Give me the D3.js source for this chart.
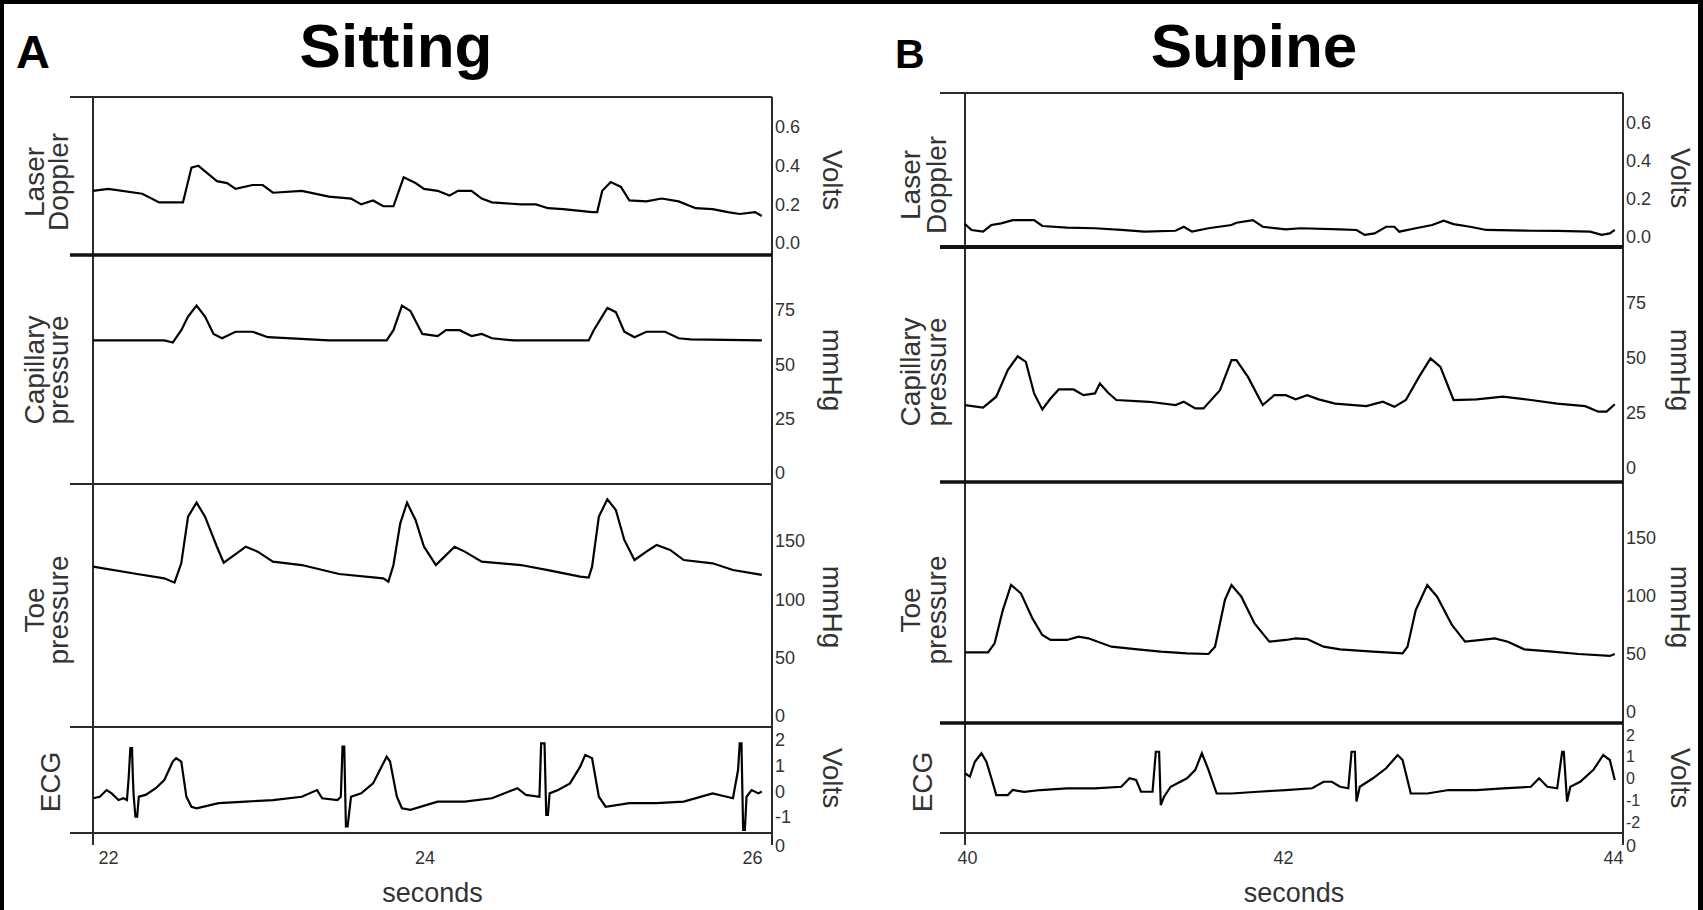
<!DOCTYPE html>
<html>
<head>
<meta charset="utf-8">
<script src="https://cdn.jsdelivr.net/npm/d3@7"></script>
<style>
  body { margin: 0; background: #fff; }
  svg { display: block; font-family: "Liberation Sans", Arial, sans-serif; }
</style>
</head>
<body>
<div id="app"></div>
<script>
// ---- data: [seconds, value] ----

// Sitting (A)
const sitLaser = [[22.00,0.27],[22.09,0.28],[22.29,0.255],[22.39,0.21],[22.53,0.21],[22.58,0.39],[22.62,0.40],[22.73,0.32],[22.79,0.31],[22.84,0.28],[22.94,0.30],[23.00,0.30],[23.06,0.26],[23.23,0.27],[23.39,0.24],[23.52,0.23],[23.58,0.20],[23.65,0.22],[23.71,0.19],[23.77,0.19],[23.83,0.34],[23.90,0.31],[23.95,0.28],[24.03,0.27],[24.10,0.245],[24.15,0.27],[24.23,0.27],[24.29,0.23],[24.35,0.21],[24.52,0.20],[24.61,0.20],[24.68,0.18],[24.77,0.175],[24.94,0.16],[24.97,0.16],[25.00,0.27],[25.05,0.315],[25.11,0.29],[25.16,0.22],[25.26,0.215],[25.35,0.23],[25.45,0.215],[25.55,0.18],[25.65,0.175],[25.74,0.16],[25.81,0.15],[25.90,0.16],[25.94,0.14]];

const sitCap = [[22.00,61],[22.42,61],[22.47,60],[22.52,65.7],[22.56,72],[22.61,77],[22.66,72],[22.71,64],[22.76,62],[22.84,65],[22.94,65],[23.03,62.5],[23.39,61],[23.73,61],[23.77,65.7],[23.82,77],[23.87,74.5],[23.94,64],[24.03,63],[24.08,65.7],[24.16,65.7],[24.23,63],[24.29,64],[24.35,62],[24.48,61],[24.92,61],[24.95,65.7],[25.03,76],[25.08,74],[25.13,65],[25.19,62.5],[25.26,65],[25.37,65],[25.45,62],[25.52,61.5],[25.94,61]];

const sitToe = [[22.00,128],[22.26,121.7],[22.42,118],[22.48,114.3],[22.52,130.9],[22.56,170.9],[22.61,182.9],[22.66,170.9],[22.73,145.1],[22.77,131.4],[22.82,136.6],[22.90,145.1],[22.97,140.9],[23.06,132.3],[23.23,129.4],[23.45,121.7],[23.71,118],[23.74,115.1],[23.77,129.4],[23.81,165.1],[23.85,182.9],[23.90,168],[23.95,145.1],[24.02,129.4],[24.06,135.1],[24.13,145.1],[24.19,140.9],[24.29,132.3],[24.52,129.4],[24.68,125.1],[24.87,119.4],[24.92,118.6],[24.94,128],[24.98,170.9],[25.03,185.7],[25.08,176.6],[25.13,150.9],[25.19,133.7],[25.26,140.9],[25.32,146.6],[25.40,142.3],[25.48,133.7],[25.65,130.9],[25.77,125.1],[25.94,120.9]];

const sitEcg = [[22.00,-0.27],[22.04,-0.21],[22.08,0.05],[22.11,-0.08],[22.15,-0.34],[22.18,-0.27],[22.20,-0.34],[22.21,0.51],[22.22,1.68],[22.23,1.68],[22.235,0.51],[22.24,-0.21],[22.25,-0.99],[22.26,-0.99],[22.27,-0.21],[22.31,-0.14],[22.37,0.12],[22.42,0.44],[22.47,1.16],[22.49,1.29],[22.52,1.16],[22.55,-0.21],[22.58,-0.6],[22.61,-0.66],[22.74,-0.46],[22.90,-0.4],[23.06,-0.34],[23.23,-0.21],[23.32,0.05],[23.35,-0.27],[23.44,-0.34],[23.46,-0.21],[23.47,1.74],[23.48,1.74],[23.49,-1.37],[23.50,-1.37],[23.52,-0.21],[23.58,-0.08],[23.65,0.31],[23.69,0.83],[23.73,1.35],[23.75,1.16],[23.79,-0.21],[23.82,-0.66],[23.87,-0.72],[24.03,-0.4],[24.19,-0.4],[24.35,-0.27],[24.50,0.12],[24.55,-0.14],[24.63,-0.21],[24.64,1.87],[24.66,1.87],[24.67,-0.92],[24.68,-0.92],[24.69,-0.08],[24.74,0.05],[24.81,0.31],[24.87,0.96],[24.90,1.42],[24.94,1.29],[24.98,-0.21],[25.02,-0.6],[25.16,-0.46],[25.32,-0.46],[25.48,-0.4],[25.65,-0.08],[25.77,-0.27],[25.80,0.83],[25.81,1.87],[25.82,1.87],[25.83,-1.5],[25.84,-1.5],[25.85,-0.21],[25.88,0.05],[25.92,-0.08],[25.94,-0.01]];

// Supine (B)
const supLaser = [[40.00,0.068],[40.04,0.037],[40.11,0.028],[40.16,0.063],[40.22,0.072],[40.29,0.089],[40.42,0.089],[40.47,0.058],[40.62,0.049],[40.79,0.046],[40.95,0.037],[41.09,0.028],[41.28,0.033],[41.33,0.054],[41.38,0.028],[41.48,0.046],[41.62,0.063],[41.65,0.075],[41.75,0.089],[41.81,0.054],[41.95,0.04],[42.04,0.046],[42.28,0.04],[42.38,0.037],[42.43,0.011],[42.49,0.019],[42.56,0.054],[42.61,0.054],[42.64,0.028],[42.74,0.046],[42.84,0.063],[42.91,0.086],[42.97,0.068],[43.07,0.054],[43.17,0.037],[43.44,0.033],[43.60,0.032],[43.80,0.028],[43.87,0.011],[43.92,0.019],[43.95,0.037]];

const supCap = [[40.00,28.6],[40.11,27.5],[40.19,32.4],[40.26,44.5],[40.32,50.8],[40.37,48.2],[40.42,33.9],[40.47,26.6],[40.52,31.6],[40.57,35.7],[40.66,35.7],[40.72,33.1],[40.79,33.9],[40.82,38.4],[40.87,34.2],[40.92,30.9],[41.12,30.1],[41.28,28.6],[41.33,30.1],[41.40,27.1],[41.45,27.1],[41.55,35.4],[41.62,49],[41.65,49],[41.72,41.4],[41.81,28.6],[41.88,33.1],[41.95,33.1],[42.01,31.2],[42.08,33.1],[42.15,31.2],[42.25,29.3],[42.44,28.1],[42.54,30.1],[42.61,27.8],[42.68,30.9],[42.76,41.4],[42.83,49.8],[42.89,46],[42.97,30.9],[43.11,31.2],[43.27,32.4],[43.44,30.9],[43.60,29.3],[43.77,28.1],[43.85,25.6],[43.90,25.6],[43.95,29]];

const supToe = [[40.00,51.4],[40.14,51.4],[40.18,59.2],[40.23,87.9],[40.28,109.5],[40.34,102.3],[40.41,80.7],[40.47,66.4],[40.52,62.1],[40.62,62.1],[40.69,64.9],[40.75,63.5],[40.89,56.3],[41.05,54],[41.19,52],[41.35,50.6],[41.48,50],[41.52,56.3],[41.58,96.6],[41.62,109.5],[41.68,99.4],[41.76,76.4],[41.85,60.6],[41.95,62.1],[42.01,63.5],[42.08,62.9],[42.18,56.3],[42.28,54],[42.48,52],[42.66,50.6],[42.69,56.3],[42.74,87.9],[42.81,109.5],[42.87,99.4],[42.96,75],[43.04,60.6],[43.14,62.1],[43.22,63.5],[43.30,60.6],[43.40,54],[43.57,52],[43.73,50],[43.92,48.3],[43.95,50]];

const supEcg = [[40.00,0.24],[40.03,0.09],[40.06,0.77],[40.10,1.16],[40.13,0.77],[40.17,-0.23],[40.19,-0.76],[40.26,-0.76],[40.29,-0.53],[40.36,-0.61],[40.46,-0.53],[40.62,-0.45],[40.79,-0.45],[40.95,-0.38],[41.00,0.01],[41.04,-0.07],[41.07,-0.61],[41.14,-0.61],[41.16,1.23],[41.18,1.23],[41.19,-1.22],[41.21,-0.84],[41.25,-0.38],[41.35,0.01],[41.40,0.40],[41.44,1.16],[41.48,0.40],[41.53,-0.69],[41.62,-0.69],[41.78,-0.61],[41.95,-0.53],[42.11,-0.45],[42.18,-0.15],[42.23,-0.15],[42.28,-0.38],[42.33,-0.45],[42.35,1.23],[42.37,1.23],[42.38,-1.06],[42.40,-0.38],[42.48,0.01],[42.56,0.47],[42.63,1.08],[42.66,0.85],[42.71,-0.69],[42.81,-0.69],[42.94,-0.53],[43.11,-0.53],[43.27,-0.45],[43.44,-0.38],[43.49,0.01],[43.54,-0.38],[43.60,-0.45],[43.63,1.23],[43.64,1.23],[43.66,-1.06],[43.68,-0.38],[43.74,-0.15],[43.82,0.40],[43.88,1.08],[43.92,0.85],[43.95,-0.07]];

// tick values
const sitSecondsTicks = [22, 24, 26];
const supSecondsTicks = [40, 42, 44];
const laserTicks = [0, 0.2, 0.4, 0.6];
const capTicks = [0, 25, 50, 75];
const toeTicks = [0, 50, 100, 150];
const sitEcgTicks = [-1, 0, 1, 2];
const supEcgTicks = [-2, -1, 0, 1, 2];

// ---- layout ----
const width = 1703;
const height = 910;

const sides = [
    {
        letter: 'A', letterX: 16, letterY: 68, letterSize: 47,
        title: 'Sitting', titleX: 396, titleY: 67,
        x0: 93, x1: 772, lineStart: 70, top: 97,
        domain: [22, 26], ticks: sitSecondsTicks, tickDx: [15, -8, -20],
        labelX: [34, 58], ecgX: 50, unitX: 822,
        panels: [
            { lines: ['Laser', 'Doppler'], unit: 'Volts', data: sitLaser, ticks: laserTicks, fmt: d => d.toFixed(1), domain: [0, 0.6], range: [243, 127], bottom: 255, sep: 3.5, cy: 182, unitY: 180 },
            { lines: ['Capillary', 'pressure'], unit: 'mmHg', data: sitCap, ticks: capTicks, fmt: d => d, domain: [0, 75], range: [473, 310], bottom: 484, sep: 2.2, cy: 370, unitY: 370 },
            { lines: ['Toe', 'pressure'], unit: 'mmHg', data: sitToe, ticks: toeTicks, fmt: d => d, domain: [0, 150], range: [716, 541], bottom: 727, sep: 2.2, cy: 610, unitY: 607 },
            { lines: ['ECG'], unit: 'Volts', data: sitEcg, ticks: sitEcgTicks, fmt: d => d, domain: [-1, 2], range: [817, 740], bottom: 833, sep: 2.2, cy: 782, unitY: 778, tickSize: 18 }
        ]
    },
    {
        letter: 'B', letterX: 895, letterY: 68, letterSize: 41,
        title: 'Supine', titleX: 1254, titleY: 67,
        x0: 965, x1: 1623, lineStart: 940, top: 93,
        domain: [40, 44], ticks: supSecondsTicks, tickDx: [2, -11, -10],
        labelX: [910, 936], ecgX: 922, unitX: 1670,
        panels: [
            { lines: ['Laser', 'Doppler'], unit: 'Volts', data: supLaser, ticks: laserTicks, fmt: d => d.toFixed(1), domain: [0, 0.6], range: [237, 123], bottom: 247, sep: 4, cy: 185, unitY: 178 },
            { lines: ['Capillary', 'pressure'], unit: 'mmHg', data: supCap, ticks: capTicks, fmt: d => d, domain: [0, 75], range: [468, 303], bottom: 482, sep: 3.5, cy: 372, unitY: 370 },
            { lines: ['Toe', 'pressure'], unit: 'mmHg', data: supToe, ticks: toeTicks, fmt: d => d, domain: [0, 150], range: [712, 538], bottom: 723, sep: 3.5, cy: 610, unitY: 607 },
            { lines: ['ECG'], unit: 'Volts', data: supEcg, ticks: supEcgTicks, fmt: d => d, domain: [-2, 2], range: [822, 735], bottom: 833, sep: 2.2, cy: 782, unitY: 778, tickSize: 16 }
        ]
    }
];

const svg = d3.select('#app').append('svg')
    .attr('width', width)
    .attr('height', height)
    .attr('viewBox', `0 0 ${width} ${height}`);

svg.append('rect').attr('width', width).attr('height', height).attr('fill', '#fff');

// black frame around the figure (top, left, right)
svg.append('rect').attr('x', 0).attr('y', 0).attr('width', width).attr('height', 4).attr('fill', '#000');
svg.append('rect').attr('x', 0).attr('y', 0).attr('width', 4).attr('height', height).attr('fill', '#000');
svg.append('rect').attr('x', width - 5).attr('y', 0).attr('width', 5).attr('height', height).attr('fill', '#000');

const axisColor = '#2b2b2b';
const textColor = '#333';

sides.forEach(side => {
    const g = svg.append('g');

    const x = d3.scaleLinear().domain(side.domain).range([side.x0, side.x1]);

    // panel letter + title
    g.append('text')
        .attr('x', side.letterX)
        .attr('y', side.letterY)
        .attr('font-size', side.letterSize)
        .attr('font-weight', 'bold')
        .attr('fill', '#000')
        .text(side.letter);

    g.append('text')
        .attr('x', side.titleX)
        .attr('y', side.titleY)
        .attr('text-anchor', 'middle')
        .attr('font-size', 62)
        .attr('font-weight', 'bold')
        .attr('fill', '#000')
        .text(side.title);

    // top frame line
    g.append('line')
        .attr('x1', side.lineStart).attr('x2', side.x1)
        .attr('y1', side.top).attr('y2', side.top)
        .attr('stroke', axisColor).attr('stroke-width', 2.2);

    const lastBottom = side.panels[side.panels.length - 1].bottom;

    // vertical axes
    [side.x0, side.x1].forEach(xx => {
        g.append('line')
            .attr('x1', xx).attr('x2', xx)
            .attr('y1', side.top).attr('y2', lastBottom + 12)
            .attr('stroke', axisColor).attr('stroke-width', 2);
    });

    side.panels.forEach(p => {
        const y = d3.scaleLinear().domain(p.domain).range(p.range);

        // separator under panel
        g.append('line')
            .attr('x1', side.lineStart).attr('x2', side.x1)
            .attr('y1', p.bottom).attr('y2', p.bottom)
            .attr('stroke', p.sep > 3 ? '#111' : axisColor)
            .attr('stroke-width', p.sep);

        // trace
        const line = d3.line()
            .x(d => x(d[0]))
            .y(d => y(d[1]));

        g.append('path')
            .datum(p.data)
            .attr('d', line)
            .attr('fill', 'none')
            .attr('stroke', '#000')
            .attr('stroke-width', 2.2)
            .attr('stroke-linejoin', 'miter');

        // right axis labels
        const yAxis = g.append('g')
            .attr('transform', `translate(${side.x1}, 0)`)
            .call(d3.axisRight(y).tickValues(p.ticks).tickSize(0).tickPadding(3).tickFormat(p.fmt));
        yAxis.select('.domain').remove();
        yAxis.selectAll('text')
            .attr('font-size', p.tickSize || 18)
            .attr('font-family', '"Liberation Sans", Arial, sans-serif')
            .attr('fill', textColor);

        // left rotated label
        const lx = p.lines.length === 1 ? [side.ecgX] : side.labelX;
        p.lines.forEach((txt, i) => {
            g.append('text')
                .attr('transform', `translate(${lx[i]}, ${p.cy}) rotate(-90)`)
                .attr('text-anchor', 'middle')
                .attr('dominant-baseline', 'central')
                .attr('font-size', 28)
                .attr('fill', textColor)
                .text(txt);
        });

        // right rotated unit
        g.append('text')
            .attr('transform', `translate(${side.unitX}, ${p.unitY}) rotate(90)`)
            .attr('text-anchor', 'middle')
            .attr('dy', '-0.05em')
            .attr('font-size', 28)
            .attr('fill', textColor)
            .text(p.unit);
    });

    // the lone "0" at the foot of the right axis
    g.append('text')
        .attr('x', side.x1 + 3)
        .attr('y', lastBottom + 19)
        .attr('font-size', 18)
        .attr('fill', textColor)
        .text('0');

    // x axis (seconds)
    const xAxis = g.append('g')
        .attr('transform', `translate(0, ${lastBottom + 18})`)
        .call(d3.axisBottom(x).tickValues(side.ticks).tickSize(0).tickPadding(0).tickFormat(d => d));
    xAxis.select('.domain').remove();
    xAxis.selectAll('text')
        .attr('font-size', 18)
        .attr('font-family', '"Liberation Sans", Arial, sans-serif')
        .attr('fill', textColor)
        .attr('dx', (d, i) => side.tickDx[i]);

    g.append('text')
        .attr('x', (side.x0 + side.x1) / 2)
        .attr('y', 902)
        .attr('text-anchor', 'middle')
        .attr('font-size', 27)
        .attr('fill', textColor)
        .text('seconds');
});
</script>
</body>
</html>
